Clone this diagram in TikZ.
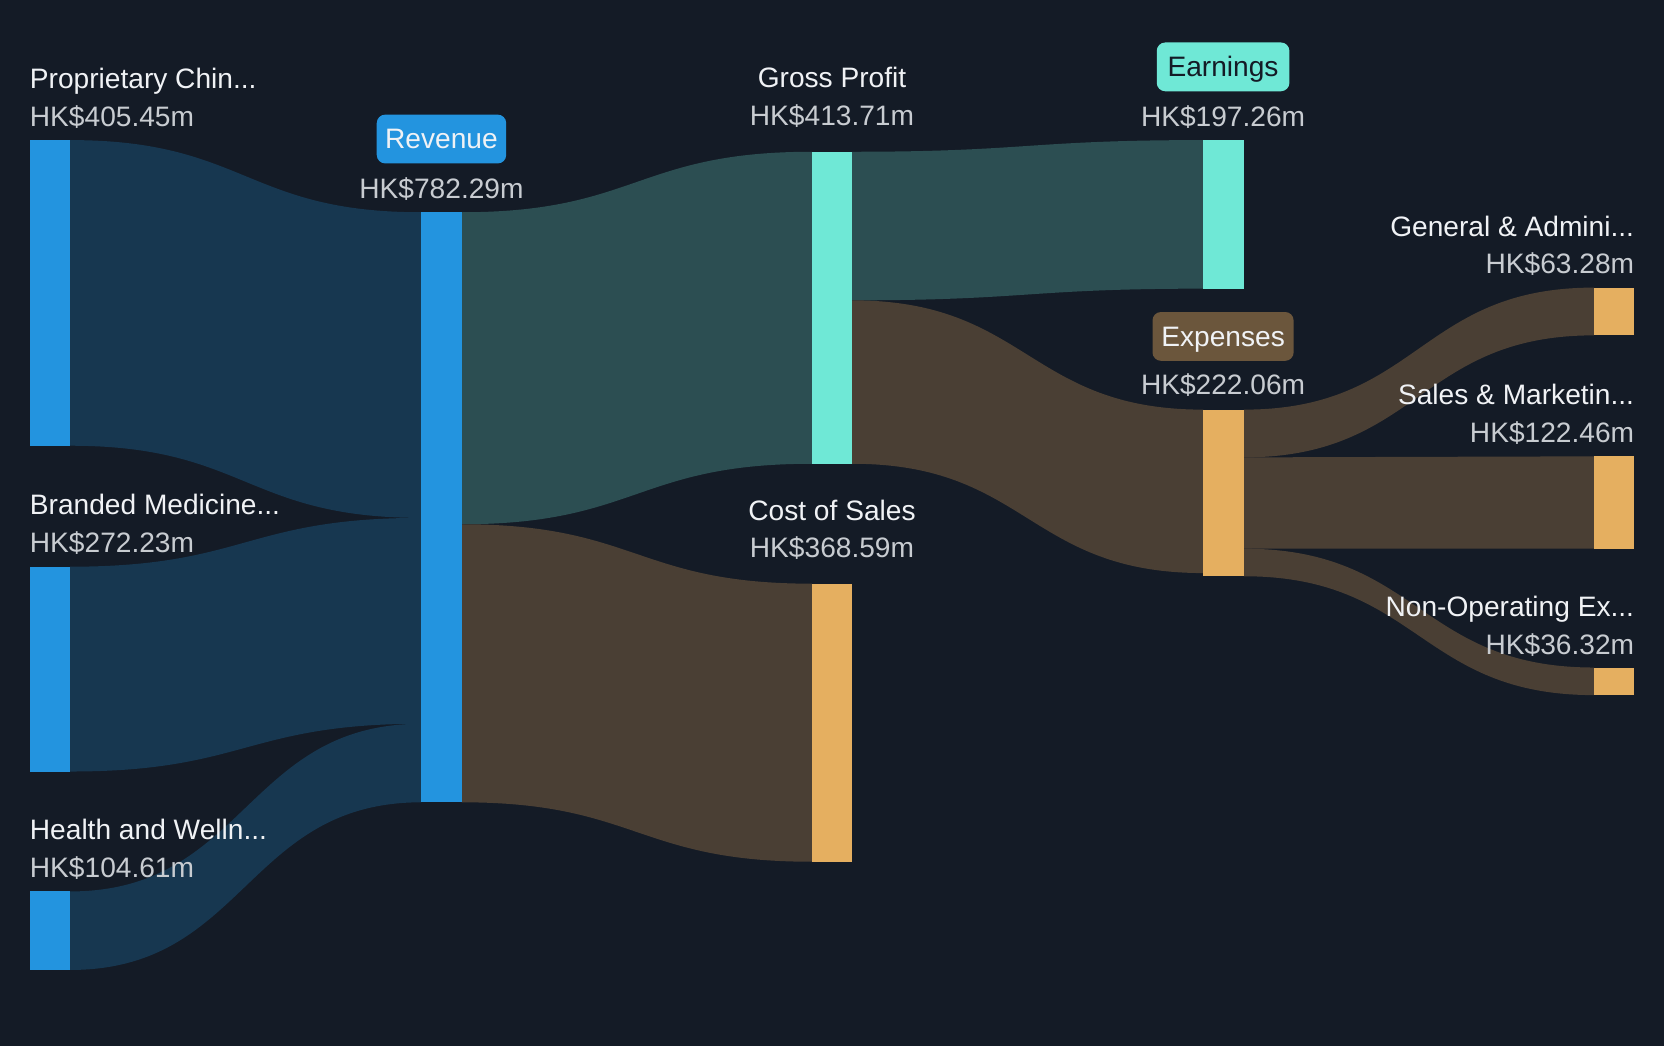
\documentclass[tikz,border=0pt]{standalone}
\usepackage{fontspec}
\setmainfont{Liberation Sans}
\usetikzlibrary{calc}
\definecolor{bgc}{HTML}{141B26}
\definecolor{barblue}{HTML}{2394DF}
\definecolor{flowblue}{HTML}{173750}
\definecolor{barteal}{HTML}{6FE8D6}
\definecolor{flowteal}{HTML}{2C4E52}
\definecolor{barorange}{HTML}{E5AF60}
\definecolor{flowbrown}{HTML}{4A3F34}
\definecolor{pillbrown}{HTML}{6B563C}
\definecolor{labelc}{HTML}{F0F2F5}
\definecolor{valc}{HTML}{C8CCD1}
\pgfdeclarelayer{back}
\pgfdeclarelayer{flows}
\pgfsetlayers{back,flows,main}
\newcommand\sk{\fontsize{26.5pt}{31pt}\selectfont}
\newcommand\sflow[5]{%
 \begin{pgfonlayer}{flows}
 \fill[#5] let \p1=(#1), \p2=(#2), \p3=(#3), \p4=(#4), \p5=($(#1)!.5!(#3)$) in
   (\p1) .. controls (\x5,\y1) and (\x5,\y3) .. (\p3) -- (\p4)
   .. controls (\x5,\y4) and (\x5,\y2) .. (\p2) -- cycle;
 \end{pgfonlayer}}
\tikzset{
  bar/.style={minimum width=38pt, inner sep=0pt, outer sep=0pt, anchor=north west, draw=none},
  lbl/.style={text=labelc, font=\sk, inner sep=0pt},
  val/.style={text=valc, font=\sk, inner sep=0pt},
  pill/.style={rounded corners=8pt, minimum height=46pt, inner sep=0pt, font=\sk, text height=18.5pt, text depth=0pt}
}
\begin{document}
\begin{tikzpicture}[x=1pt,y=-1pt]
\begin{pgfonlayer}{back}
\fill[bgc] (0,0) rectangle (1568,986);
\end{pgfonlayer}
\useasboundingbox (0,0) rectangle (1568,986);
% bars
\node[bar, fill=barblue, minimum height=288pt] (prop) at (28,132) {};
\node[bar, fill=barblue, minimum height=193pt] (brand) at (28,534) {};
\node[bar, fill=barblue, minimum height=74pt] (health) at (28,840) {};
\node[bar, fill=barblue, minimum height=556pt] (rev) at (397,200) {};
\node[bar, fill=barteal, minimum height=294pt] (gp) at (765,143) {};
\node[bar, fill=barorange, minimum height=262pt] (cos) at (765,550) {};
\node[bar, fill=barteal, minimum height=140pt] (earn) at (1134,132) {};
\node[bar, fill=barorange, minimum height=157pt] (nexp) at (1134,386) {};
\node[bar, fill=barorange, minimum height=45pt] (ga) at (1502,271) {};
\node[bar, fill=barorange, minimum height=87pt] (sm) at (1502,430) {};
\node[bar, fill=barorange, minimum height=26pt] (nop) at (1502,629) {};
% flows
\sflow{prop.north east}{prop.south east}{rev.north west}{$(rev.north west)+(0,288)$}{flowblue}
\sflow{brand.north east}{brand.south east}{$(rev.north west)+(0,288)$}{$(rev.north west)+(0,482)$}{flowblue}
\sflow{health.north east}{health.south east}{$(rev.north west)+(0,482)$}{rev.south west}{flowblue}
\sflow{rev.north east}{$(rev.north east)+(0,294)$}{gp.north west}{gp.south west}{flowteal}
\sflow{$(rev.north east)+(0,294)$}{rev.south east}{cos.north west}{cos.south west}{flowbrown}
\sflow{gp.north east}{$(gp.north east)+(0,140)$}{earn.north west}{earn.south west}{flowteal}
\sflow{$(gp.north east)+(0,140)$}{gp.south east}{nexp.north west}{$(nexp.north west)+(0,154)$}{flowbrown}
\sflow{nexp.north east}{$(nexp.north east)+(0,45)$}{ga.north west}{ga.south west}{flowbrown}
\sflow{$(nexp.north east)+(0,45)$}{$(nexp.north east)+(0,131)$}{sm.north west}{sm.south west}{flowbrown}
\sflow{$(nexp.north east)+(0,131)$}{nexp.south east}{nop.north west}{nop.south west}{flowbrown}
% labels
\node[lbl, anchor=base west] (tprop) at (28,83) {Proprietary Chin...};
\node[val, anchor=base west] (vprop) at (28,119) {HK\$405.45m};
\node[lbl, anchor=base west] (tbrand) at (28,485) {Branded Medicine...};
\node[val, anchor=base west] (vbrand) at (28,521) {HK\$272.23m};
\node[lbl, anchor=base west] (thealth) at (28,791) {Health and Welln...};
\node[val, anchor=base west] (vhealth) at (28,827) {HK\$104.61m};
\node[pill, fill=barblue, text=labelc, minimum width=122pt] (trev) at (416,131) {Revenue};
\node[val, anchor=base] (vrev) at (416,187) {HK\$782.29m};
\node[lbl, anchor=base] (tgp) at (784,82) {Gross Profit};
\node[val, anchor=base] (vgp) at (784,118) {HK\$413.71m};
\node[lbl, anchor=base] (tcos) at (784,490) {Cost of Sales};
\node[val, anchor=base] (vcos) at (784,525) {HK\$368.59m};
\node[pill, fill=barteal, text=bgc, minimum width=125pt] (tearn) at (1152.5,63) {Earnings};
\node[val, anchor=base] (vearn) at (1152.5,119) {HK\$197.26m};
\node[pill, fill=pillbrown, text=labelc, minimum width=133pt] (texp) at (1152.5,317) {Expenses};
\node[val, anchor=base] (vexp) at (1152.5,372) {HK\$222.06m};
\node[lbl, anchor=base east] (tga) at (1540,223) {General \& Admini...};
\node[val, anchor=base east] (vga) at (1540,258) {HK\$63.28m};
\node[lbl, anchor=base east] (tsm) at (1540,381) {Sales \& Marketin...};
\node[val, anchor=base east] (vsm) at (1540,417) {HK\$122.46m};
\node[lbl, anchor=base east] (tnop) at (1540,581) {Non-Operating Ex...};
\node[val, anchor=base east] (vnop) at (1540,617) {HK\$36.32m};
\end{tikzpicture}
\end{document}
